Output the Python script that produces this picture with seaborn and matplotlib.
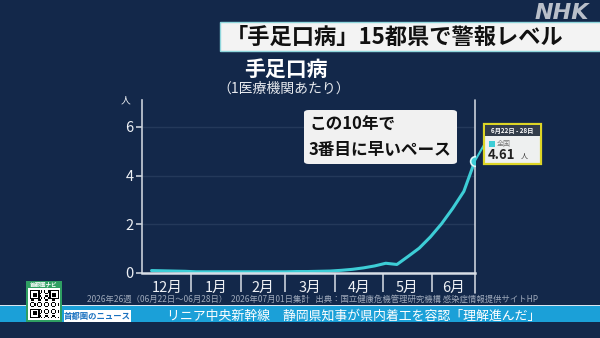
import numpy as np
import pandas as pd
import matplotlib.pyplot as plt
from matplotlib.patches import Rectangle, FancyBboxPatch
import seaborn as sns

# Weekly cases per sentinel clinic (week ending Sunday), 2025 wk49 - 2026 wk26
week_end = pd.date_range('2025-12-07', '2026-06-28', freq='7D')
per_clinic = [0.10, 0.09, 0.08, 0.07, 0.05, 0.05, 0.05, 0.05, 0.05, 0.05,
              0.05, 0.05, 0.05, 0.06, 0.06, 0.07, 0.08, 0.11, 0.15, 0.21,
              0.29, 0.40, 0.35, 0.68, 1.02, 1.48, 2.02, 2.65, 3.35, 4.61]

month_labels = ['12月', '1月', '2月', '3月', '4月', '5月', '6月']
month_starts = pd.to_datetime(['2025-12-01', '2026-01-01', '2026-02-01', '2026-03-01',
                               '2026-04-01', '2026-05-01', '2026-06-01'])
x_start = pd.Timestamp('2025-12-01')
x_end = pd.Timestamp('2026-06-28')
y_ticks = [0, 2, 4, 6]

title = '「手足口病」15都県で警報レベル'
subtitle = '手足口病'
subtitle2 = '（1医療機関あたり）'
callout = ['この10年で', '3番目に早いペース']
tip_header = '6月22日 - 28日'
tip_series = '全国'
source = ('2026年26週（06月22日～06月28日）  2026年07月01日集計   '
          '出典：国立健康危機管理研究機構 感染症情報提供サイトHP')
ticker = 'リニア中央新幹線　静岡県知事が県内着工を容認「理解進んだ」'

bg = '#13284a'
cyan = '#3dcdd6'
light = '#c9d0da'

sns.set_theme(style='dark', rc={'axes.facecolor': bg, 'figure.facecolor': bg})
plt.rcParams['font.family'] = ['Noto Sans CJK JP', 'DejaVu Sans']

W, H = 600, 338
fig = plt.figure(figsize=(6, 3.38), dpi=100)


def fx(x):
    return x / W


def fy(y):
    return 1 - y / H


def rect(x0, y0, x1, y1, **kw):
    fig.add_artist(Rectangle((fx(x0), fy(y1)), fx(x1 - x0), (y1 - y0) / H,
                             transform=fig.transFigure, **kw))


# main chart
ax = fig.add_axes([fx(142), fy(273), fx(333), 173 / H])
sns.lineplot(x=week_end, y=per_clinic, ax=ax, color=cyan, linewidth=2.2)
ax.plot(week_end[-1], per_clinic[-1], 'o', ms=7, mfc=cyan, mec='#dff8fa',
        mew=1.2, zorder=5)
ax.set_xlim(x_start, x_end)
ax.set_ylim(0, 7.1)
ax.set_xlabel('')
ax.set_ylabel('')

ax.set_yticks(y_ticks)
ax.set_yticklabels([str(v) for v in y_ticks], color='#eef1f5', fontsize=10.5)
ax.yaxis.grid(True, color='#24395a', lw=1)
ax.xaxis.grid(False)
ax.tick_params(axis='y', left=True, length=4, width=1.2, color=light, pad=2)

bounds = list(month_starts) + [x_end]
mids = [bounds[i] + (bounds[i + 1] - bounds[i]) / 2 for i in range(len(month_labels))]
ax.set_xticks(mids)
ax.set_xticklabels(month_labels, color='#eef1f5', fontsize=10.5)
ax.set_xticks(list(month_starts[1:]), minor=True)
ax.tick_params(axis='x', which='major', length=0, pad=6)
ax.tick_params(axis='x', which='minor', bottom=True, length=14, width=1.2, color=light)

for side in ['top', 'right']:
    ax.spines[side].set_visible(False)
ax.spines['left'].set_color(light)
ax.spines['left'].set_linewidth(1.2)
ax.spines['bottom'].set_color('#d8dee6')
ax.spines['bottom'].set_linewidth(1.8)
ax.plot([1, 1], [-0.115, 1], transform=ax.transAxes, clip_on=False,
        color=light, lw=1.2)
ax.text(-0.035, 1.0, '人', transform=ax.transAxes, ha='right', va='center',
        color='#eef1f5', fontsize=7)

# leader line from last point to tooltip
ax.annotate('', xy=(week_end[-1], per_clinic[-1]), xytext=(484, H - 145),
            textcoords='figure pixels',
            arrowprops=dict(arrowstyle='-', color=cyan, lw=1.5, shrinkA=0, shrinkB=0))

# title box and logo
rect(220, 22, 601, 51, fc='#f3f3f3', ec='#8fd6dc', lw=1)
fig.text(fx(226), fy(37), title, ha='left', va='center', fontsize=16,
         weight='bold', color='#111111')
fig.text(fx(589), fy(13), 'NHK', ha='right', va='center', fontsize=16,
         weight='bold', style='italic', color='#b9bfc9', family='DejaVu Sans')

fig.text(fx(286), fy(69), subtitle, ha='center', va='center', fontsize=15,
         weight='bold', color='white')
fig.text(fx(284), fy(89), subtitle2, ha='center', va='center', fontsize=10,
         color='#e6e9ee')

# callout
fig.add_artist(FancyBboxPatch((fx(304), fy(164)), fx(153), 54 / H,
                              boxstyle='round,pad=0,rounding_size=0.008',
                              transform=fig.transFigure, fc='#f1f1f1', ec='none'))
fig.text(fx(309), fy(125), callout[0], ha='left', va='center', fontsize=12,
         weight='bold', color='#111111')
fig.text(fx(309), fy(150), callout[1], ha='left', va='center', fontsize=12,
         weight='bold', color='#111111')

# tooltip
rect(484, 124, 541, 164, fc='#eef0f0', ec='#ddd526', lw=1.6)
rect(485, 125, 540, 136, fc='#333d4a', ec='none')
fig.text(fx(512.5), fy(130.5), tip_header, ha='center', va='center', fontsize=4.5,
         color='white', weight='bold')
rect(489, 141, 495, 147, fc=cyan, ec='none')
fig.text(fx(497), fy(144), tip_series, ha='left', va='center', fontsize=5,
         color='#777777')
fig.text(fx(488), fy(155), f'{per_clinic[-1]:.2f}', ha='left', va='center',
         fontsize=9.5, weight='bold', color='#222222')
fig.text(fx(521), fy(157), '人', ha='left', va='center', fontsize=5, color='#333333')

# source line
fig.text(fx(87), fy(299), source, ha='left', va='center', fontsize=6.0,
         color='#9ea9ba')

# ticker band
rect(0, 304.5, 600, 305.5, fc='#d8e6f0', ec='none')
rect(0, 305.5, 600, 321.5, fc='#1ba0d8', ec='none')
rect(64, 310, 131, 322, fc='white', ec='none')
fig.text(fx(97.5), fy(316), '首都圏のニュース', ha='center', va='center',
         fontsize=6.0, weight='bold', color='#1b72c0')
fig.text(fx(167), fy(316), ticker, ha='left', va='center', fontsize=9.3,
         color='white')

# QR badge
rect(26, 281, 62, 322, fc='#2f9f62', ec='none')
fig.text(fx(44), fy(284.5), '首都圏ナビ', ha='center', va='center', fontsize=4,
         color='white', weight='bold')
rect(28, 288, 60, 320, fc='white', ec='none')
qr_ax = fig.add_axes([fx(30), fy(318), fx(28), 28 / H])
qr_ax.set_zorder(5)
ii, jj = np.meshgrid(np.arange(21), np.arange(21))
qr = (((ii * 7 + jj * 11 + ii * jj) % 5) < 2).astype(float)
for r0, c0 in [(0, 0), (0, 14), (14, 0)]:
    qr[r0:r0 + 7, c0:c0 + 7] = 1
    qr[r0 + 1:r0 + 6, c0 + 1:c0 + 6] = 0
    qr[r0 + 2:r0 + 5, c0 + 2:c0 + 5] = 1
qr_ax.imshow(qr, cmap='Greys', interpolation='nearest', aspect='auto')
qr_ax.axis('off')

fig.savefig('out.png', dpi=100, facecolor=bg)
